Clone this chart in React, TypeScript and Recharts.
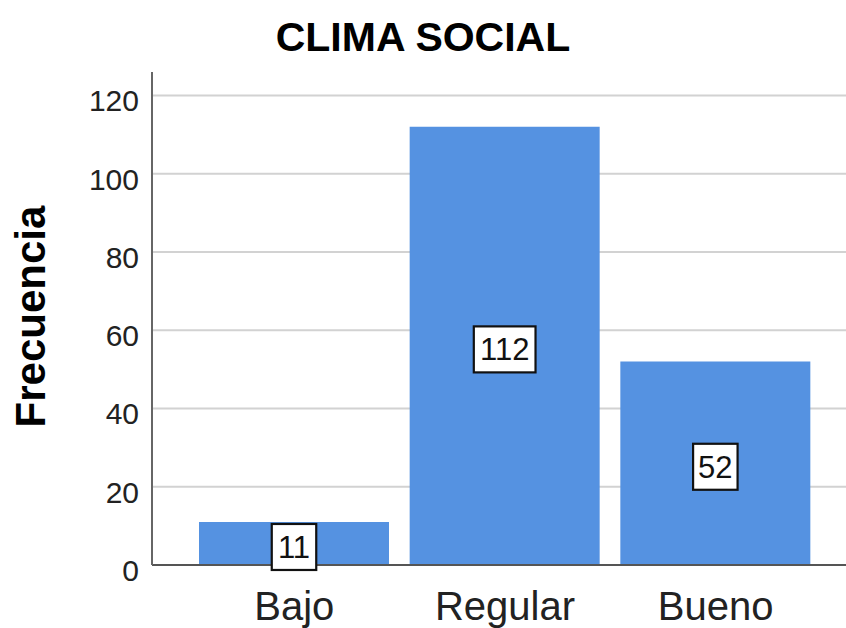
import React from "react"
import { BarChart, Bar, XAxis, YAxis, CartesianGrid, LabelList } from "recharts"

const categories = ["Bajo", "Regular", "Bueno"]
const frequencies = [11, 112, 52]
const yTicks = [0, 20, 40, 60, 80, 100, 120]

const data = categories.map((c, i) => ({ categoria: c, frecuencia: frequencies[i] }))

const FONT = '"Liberation Sans", Arial, sans-serif'
const BAR_COLOR = "#5592e1"

function YTick({ x, y, payload }: any) {
  return (
    <text x={x} y={y} dy={16} textAnchor="end" fontSize={30} fill="#222" fontFamily={FONT}>
      {payload.value}
    </text>
  )
}

function XTick({ x, y, payload }: any) {
  return (
    <text x={x} y={y + 47} textAnchor="middle" fontSize={40} fill="#222" fontFamily={FONT}>
      {payload.value}
    </text>
  )
}

function ValueBox({ x, y, width, height, value }: any) {
  const fs = 31
  const text = String(value)
  const w = text.length * 0.556 * fs + 10
  const h = 46
  const cx = x + width / 2
  const cy = y + height / 2 + 3.5
  return (
    <g>
      <rect x={cx - w / 2} y={cy - h / 2} width={w} height={h} fill="#fff" stroke="#111" strokeWidth={2.2} />
      <text x={cx} y={cy} dy={11} textAnchor="middle" fontSize={fs} fill="#111" fontFamily={FONT}>
        {text}
      </text>
    </g>
  )
}

export default function App() {
  return (
    <div style={{ position: "absolute", left: 0, top: 0, width: 846, height: 628, background: "#fff", fontFamily: FONT }}>
      <div
        style={{
          position: "absolute",
          left: 0,
          width: 846,
          top: 13,
          textAlign: "center",
          fontSize: 41,
          fontWeight: "bold",
          lineHeight: "48px",
          color: "#000",
        }}
      >
        CLIMA SOCIAL
      </div>
      <svg style={{ position: "absolute", left: 0, top: 0 }} width={846} height={628}>
        <text
          transform="translate(45,316.5) rotate(-90)"
          textAnchor="middle"
          fontSize={42}
          fontWeight="bold"
          fill="#000"
          fontFamily={FONT}
        >
          Frecuencia
        </text>
      </svg>
      <div style={{ position: "absolute", left: 0, top: 0 }}>
        <BarChart width={846} height={628} data={data} margin={{ top: 72, right: 0, bottom: 23, left: 92 }}>
          <CartesianGrid vertical={false} syncWithTicks stroke="#d2d2d2" strokeWidth={2} />
          <XAxis
            dataKey="categoria"
            height={40}
            padding={{ left: 37, right: 25 }}
            tickLine={false}
            axisLine={{ stroke: "#555", strokeWidth: 2 }}
            tick={<XTick />}
            interval={0}
          />
          <YAxis
            width={60}
            domain={[0, 126]}
            ticks={yTicks}
            tickLine={false}
            tickSize={6}
            tickMargin={7}
            axisLine={{ stroke: "#666", strokeWidth: 2 }}
            tick={<YTick />}
            interval={0}
          />
          <Bar dataKey="frecuencia" fill={BAR_COLOR} barSize={190} isAnimationActive={false}>
            <LabelList dataKey="frecuencia" content={<ValueBox />} />
          </Bar>
        </BarChart>
      </div>
    </div>
  )
}
